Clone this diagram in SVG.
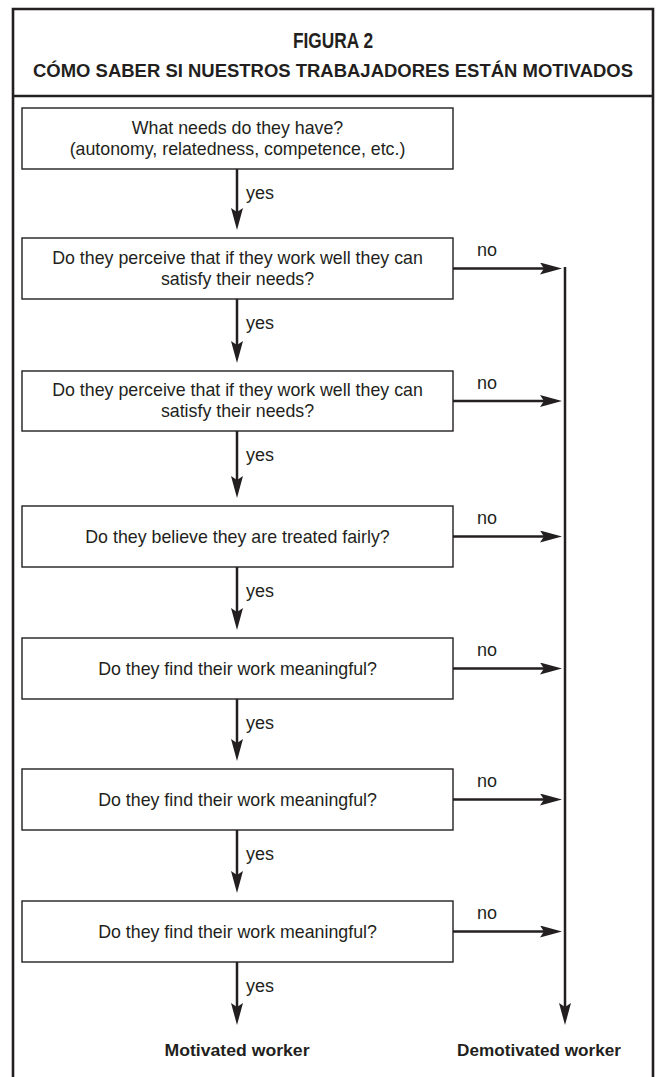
<svg xmlns="http://www.w3.org/2000/svg" width="657" height="1077" viewBox="0 0 657 1077">
<style>
.frame{fill:none;stroke:#231f20;stroke-width:2.6}
.box{fill:#fff;stroke:#231f20;stroke-width:1.4}
.t{font-family:"Liberation Sans",Arial,sans-serif;font-size:17.8px;fill:#231f20;text-anchor:middle}
.lbl{font-family:"Liberation Sans",Arial,sans-serif;font-size:18px;fill:#231f20}
.b{font-family:"Liberation Sans",Arial,sans-serif;font-weight:bold;fill:#231f20;text-anchor:middle}
.c{stroke:#231f20;stroke-width:2.5;fill:none}
</style>
<defs>
<marker id="ah" viewBox="0 0 22 12" markerWidth="22" markerHeight="12" refX="12" refY="6" orient="auto" markerUnits="userSpaceOnUse">
<path d="M0,0 L22,6 L0,12 L4,6 Z" fill="#231f20"/>
</marker>
</defs>
<rect width="657" height="1077" fill="#fff"/>
<g id="frame">
<path class="frame" d="M13,1080 V9 H653 V1080"/>
<line class="frame" x1="13" y1="96" x2="653" y2="96"/>
<text class="b" x="333" y="48" font-size="22" textLength="80" lengthAdjust="spacingAndGlyphs">FIGURA 2</text>
<text class="b" x="333" y="77" font-size="19" textLength="600" lengthAdjust="spacingAndGlyphs">CÓMO SABER SI NUESTROS TRABAJADORES ESTÁN MOTIVADOS</text>
</g>
<g id="n1"><rect class="box" x="22" y="108" width="431" height="61"/>
<text class="t" x="237.5" y="134">What needs do they have?</text>
<text class="t" x="237.5" y="155">(autonomy, relatedness, competence, etc.)</text></g>
<g id="n2"><rect class="box" x="22" y="238" width="431" height="61"/>
<text class="t" x="237.5" y="264">Do they perceive that if they work well they can</text>
<text class="t" x="237.5" y="285">satisfy their needs?</text></g>
<g id="n3"><rect class="box" x="22" y="371" width="431" height="60"/>
<text class="t" x="237.5" y="396">Do they perceive that if they work well they can</text>
<text class="t" x="237.5" y="417">satisfy their needs?</text></g>
<g id="n4"><rect class="box" x="22" y="506" width="431" height="61"/>
<text class="t" x="237.5" y="543">Do they believe they are treated fairly?</text></g>
<g id="n5"><rect class="box" x="22" y="638" width="431" height="61"/>
<text class="t" x="237.5" y="675">Do they find their work meaningful?</text></g>
<g id="n6"><rect class="box" x="22" y="769" width="431" height="61"/>
<text class="t" x="237.5" y="806">Do they find their work meaningful?</text></g>
<g id="n7"><rect class="box" x="22" y="901" width="431" height="61"/>
<text class="t" x="237.5" y="938">Do they find their work meaningful?</text></g>
<g id="out1"><text class="b" x="237" y="1056" font-size="17" textLength="145" lengthAdjust="spacingAndGlyphs">Motivated worker</text></g>
<g id="out2"><text class="b" x="539" y="1056" font-size="17" textLength="164" lengthAdjust="spacingAndGlyphs">Demotivated worker</text></g>
<g id="connectors">
<line class="c" x1="237" y1="169" x2="237" y2="220" marker-end="url(#ah)"/>
<line class="c" x1="237" y1="299" x2="237" y2="353" marker-end="url(#ah)"/>
<line class="c" x1="237" y1="431" x2="237" y2="488" marker-end="url(#ah)"/>
<line class="c" x1="237" y1="567" x2="237" y2="620" marker-end="url(#ah)"/>
<line class="c" x1="237" y1="699" x2="237" y2="751" marker-end="url(#ah)"/>
<line class="c" x1="237" y1="830" x2="237" y2="883" marker-end="url(#ah)"/>
<line class="c" x1="237" y1="962" x2="237" y2="1015" marker-end="url(#ah)"/>
<line class="c" x1="453" y1="268.5" x2="552" y2="268.5" marker-end="url(#ah)"/>
<line class="c" x1="453" y1="401" x2="552" y2="401" marker-end="url(#ah)"/>
<line class="c" x1="453" y1="536.5" x2="552" y2="536.5" marker-end="url(#ah)"/>
<line class="c" x1="453" y1="668.5" x2="552" y2="668.5" marker-end="url(#ah)"/>
<line class="c" x1="453" y1="799.5" x2="552" y2="799.5" marker-end="url(#ah)"/>
<line class="c" x1="453" y1="931.5" x2="552" y2="931.5" marker-end="url(#ah)"/>
<line class="c" x1="565" y1="267" x2="565" y2="1015" marker-end="url(#ah)"/>
<text class="lbl" x="246" y="199">yes</text>
<text class="lbl" x="246" y="329">yes</text>
<text class="lbl" x="246" y="461">yes</text>
<text class="lbl" x="246" y="597">yes</text>
<text class="lbl" x="246" y="729">yes</text>
<text class="lbl" x="246" y="860">yes</text>
<text class="lbl" x="246" y="992">yes</text>
<text class="lbl" x="477" y="256">no</text>
<text class="lbl" x="477" y="389">no</text>
<text class="lbl" x="477" y="524">no</text>
<text class="lbl" x="477" y="656">no</text>
<text class="lbl" x="477" y="787">no</text>
<text class="lbl" x="477" y="919">no</text>
</g>
</svg>
